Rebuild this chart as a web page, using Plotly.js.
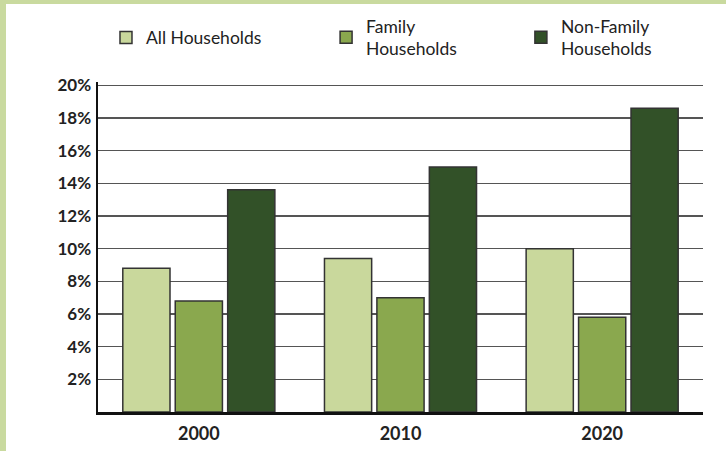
<!DOCTYPE html>
<html>
<head>
<meta charset="utf-8">
<script src="https://cdn.plot.ly/plotly-3.0.1.min.js"></script>
<style>
  html, body { margin: 0; padding: 0; background: #c9da9f; width: 726px; height: 451px; overflow: hidden; }
  #chart { position: absolute; left: 6px; top: 4px; width: 720px; height: 447px; background: #fff; }
</style>
</head>
<body>
<div id="chart"></div>
<script>
const years = ['2000', '2010', '2020'];
const allHouseholds = [8.8, 9.4, 10.0];
const familyHouseholds = [6.8, 7.0, 5.8];
const nonFamilyHouseholds = [13.6, 15.0, 18.6];
const seriesNames = ['All Households', 'Family<br>Households', 'Non-Family<br>Households'];
const yTicks = [2, 4, 6, 8, 10, 12, 14, 16, 18, 20];
const yTickLabels = ['2%', '4%', '6%', '8%', '10%', '12%', '14%', '16%', '18%', '20%'];

const colors = ['#c9d89c', '#8aa84e', '#325128'];
const seriesData = [allHouseholds, familyHouseholds, nonFamilyHouseholds];
const legendIds = ['legend', 'legend2', 'legend3'];
const legendX = [0.0132, 0.377, 0.699];

const FONT = 'Lato, "Open Sans", sans-serif';

const traces = seriesData.map((vals, i) => ({
  type: 'bar',
  x: years,
  y: vals,
  name: seriesNames[i],
  legend: legendIds[i],
  marker: { color: colors[i], line: { color: '#333333', width: 1.5 } },
  hoverinfo: 'skip'
}));

const layout = {
  width: 720,
  height: 447,
  margin: { l: 92, r: 23, t: 78, b: 39 },
  paper_bgcolor: '#ffffff',
  plot_bgcolor: '#ffffff',
  barmode: 'group',
  bargap: 0.22,
  bargroupgap: 0.1,
  font: { family: FONT, color: '#222' },
  showlegend: true,
  xaxis: {
    type: 'category',
    tickfont: { size: 18, color: '#222', family: FONT, weight: 'bold' },
    showline: true,
    linecolor: '#111',
    linewidth: 3,
    ticks: '',
    ticklabelstandoff: 3,
    showgrid: false
  },
  yaxis: {
    range: [0, 20.2],
    tickvals: yTicks,
    ticktext: yTickLabels,
    tickfont: { size: 17, color: '#222', family: FONT, weight: 'bold' },
    showline: true,
    linecolor: '#111',
    linewidth: 2.5,
    showgrid: true,
    gridcolor: '#555555',
    gridwidth: 1.5,
    zeroline: false,
    ticks: '',
    ticklabelstandoff: 1,
    fixedrange: true
  }
};

legendIds.forEach((id, i) => {
  layout[id] = {
    x: legendX[i], xanchor: 'left',
    yref: 'container',
    y: 0.925, yanchor: 'middle',
    valign: 'middle',
    bgcolor: 'rgba(0,0,0,0)',
    font: { size: 17.5, color: '#222', family: FONT }
  };
});

Plotly.newPlot('chart', traces, layout, { displayModeBar: false, staticPlot: true });
</script>
</body>
</html>
